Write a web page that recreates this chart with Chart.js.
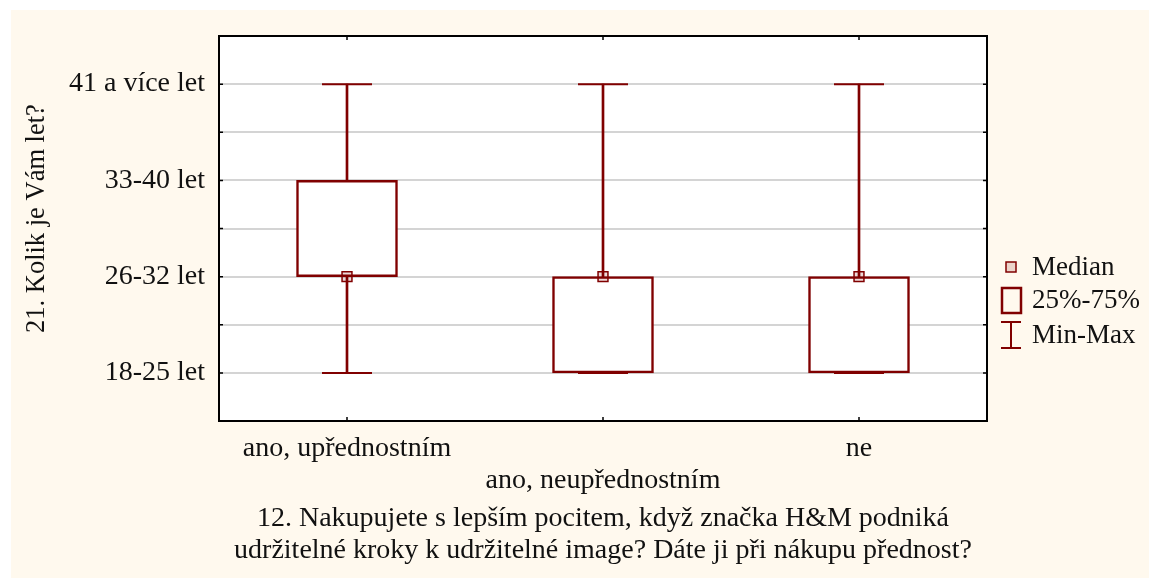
<!DOCTYPE html>
<html>
<head>
<meta charset="utf-8">
<script src="https://cdn.jsdelivr.net/npm/chart.js@4.4.1/dist/chart.umd.min.js"></script>
<style>
  html, body { margin: 0; padding: 0; background: #ffffff; }
  #wrap { position: absolute; left: 0; top: 0; width: 1149px; height: 578px; }
</style>
</head>
<body>
<div id="wrap"><canvas id="c" width="1149" height="578"></canvas></div>
<script>
// ---- data ----
const categories = ['ano, upřednostním', 'ano, neupřednostním', 'ne'];
const ageLabels = ['18-25 let', '26-32 let', '33-40 let', '41 a více let'];
const minValues = [1, 1, 1];
const q1Values = [2, 1, 1];
const medianValues = [2, 2, 2];
const q3Values = [3, 2, 2];
const maxValues = [4, 4, 4];
const legendLabels = ['Median', '25%-75%', 'Min-Max'];
const xTitle = ['12. Nakupujete s lepším pocitem, když značka H&M podniká',
                'udržitelné kroky k udržitelné image? Dáte ji při nákupu přednost?'];
const yTitle = '21. Kolik je Vám let?';

const RED = '#800000';
const CREAM = '#FFF9EE';
const FONT = "'Liberation Serif', 'Times New Roman', serif";
const TEXT = '#111111';

const bgPlugin = {
  id: 'bg',
  beforeDraw(chart) {
    const ctx = chart.ctx, a = chart.chartArea;
    ctx.save();
    ctx.fillStyle = '#ffffff';
    ctx.fillRect(0, 0, chart.width, chart.height);
    ctx.fillStyle = CREAM;
    ctx.fillRect(11, 10, chart.width - 11, chart.height - 10);
    ctx.fillStyle = '#ffffff';
    ctx.fillRect(a.left, a.top, a.right - a.left, a.bottom - a.top);
    ctx.restore();
  }
};

const framePlugin = {
  id: 'frame',
  afterDraw(chart) {
    const ctx = chart.ctx, a = chart.chartArea;
    const xs = chart.scales.x, ys = chart.scales.y;
    ctx.save();
    ctx.strokeStyle = '#000000';
    ctx.lineWidth = 1.5;
    ctx.beginPath();
    ys.ticks.forEach((t, i) => {
      const y = ys.getPixelForTick(i);
      ctx.moveTo(a.left, y); ctx.lineTo(a.left + 4, y);
      ctx.moveTo(a.right, y); ctx.lineTo(a.right - 4, y);
    });
    xs.ticks.forEach((t, i) => {
      const x = xs.getPixelForTick(i);
      ctx.moveTo(x, a.top); ctx.lineTo(x, a.top + 4);
      ctx.moveTo(x, a.bottom); ctx.lineTo(x, a.bottom - 4);
    });
    ctx.stroke();
    ctx.lineWidth = 2;
    ctx.strokeRect(a.left, a.top, a.right - a.left, a.bottom - a.top);
    ctx.restore();
  }
};

const legendPlugin = {
  id: 'customLegend',
  afterDraw(chart) {
    const ctx = chart.ctx, a = chart.chartArea;
    const ix = a.right + 24;   // icon centre x
    const tx = a.right + 45;   // text x
    const rows = [267, 300, 335];
    ctx.save();
    ctx.strokeStyle = RED;
    // median icon
    ctx.lineWidth = 1.5;
    ctx.fillStyle = 'rgba(128,0,0,0.15)';
    ctx.fillRect(ix - 5, rows[0] - 5, 10, 10);
    ctx.strokeRect(ix - 5, rows[0] - 5, 10, 10);
    // box icon
    ctx.lineWidth = 2.5;
    ctx.strokeRect(ix - 9, rows[1] - 12, 19, 25);
    // min-max icon
    ctx.lineWidth = 2;
    ctx.beginPath();
    ctx.moveTo(ix - 10, rows[2] - 13); ctx.lineTo(ix + 10, rows[2] - 13);
    ctx.moveTo(ix, rows[2] - 13); ctx.lineTo(ix, rows[2] + 13);
    ctx.moveTo(ix - 10, rows[2] + 13); ctx.lineTo(ix + 10, rows[2] + 13);
    ctx.stroke();
    ctx.fillStyle = TEXT;
    ctx.font = '27px ' + FONT;
    ctx.textBaseline = 'middle';
    ctx.textAlign = 'left';
    legendLabels.forEach((l, i) => ctx.fillText(l, tx, rows[i] + 1));
    ctx.restore();
  }
};

new Chart(document.getElementById('c'), {
  type: 'bar',
  data: {
    labels: categories,
    datasets: [
      {
        type: 'bar', label: 'whisker',
        data: minValues.map((v, i) => [v, maxValues[i]]),
        backgroundColor: RED, borderWidth: 0,
        barThickness: 2, grouped: false, order: 4
      },
      {
        type: 'bar', label: '25%-75%',
        data: q1Values.map((v, i) => [v, q3Values[i]]),
        backgroundColor: '#ffffff', borderColor: RED, borderWidth: 2.5,
        borderSkipped: false, barThickness: 101, grouped: false, order: 3
      },
      {
        type: 'line', label: 'min',
        data: minValues, showLine: false,
        pointStyle: 'line', pointRadius: 25, pointBorderWidth: 2,
        pointBorderColor: RED, borderColor: RED, order: 2
      },
      {
        type: 'line', label: 'max',
        data: maxValues, showLine: false,
        pointStyle: 'line', pointRadius: 25, pointBorderWidth: 2,
        pointBorderColor: RED, borderColor: RED, order: 2
      },
      {
        type: 'line', label: 'Median',
        data: medianValues, showLine: false,
        pointStyle: 'rect', pointRadius: 7, pointBorderWidth: 1.5,
        pointBorderColor: RED, pointBackgroundColor: 'rgba(128,0,0,0.15)', order: 1
      }
    ]
  },
  options: {
    responsive: false,
    animation: false,
    devicePixelRatio: 1,
    layout: { padding: { left: 0, right: 162, top: 36, bottom: 0 } },
    plugins: { legend: { display: false }, tooltip: { enabled: false } },
    scales: {
      x: {
        type: 'category',
        offset: true,
        grid: { display: false, drawTicks: false },
        border: { display: false },
        ticks: {
          padding: 12,
          color: TEXT,
          maxRotation: 0, autoSkip: false,
          font: { family: FONT, size: 28, lineHeight: '32px' },
          callback: function (value, index) {
            return index % 2 === 1 ? ['', categories[index]] : categories[index];
          }
        },
        title: {
          display: true, text: xTitle, color: TEXT,
          font: { family: FONT, size: 28, lineHeight: '32px' },
          padding: { top: 0, bottom: 11 }
        },
        afterFit(scale) { scale.height = 157; }
      },
      y: {
        min: 0.5, max: 4.5,
        grid: { color: '#d4d4d4', lineWidth: 2, drawTicks: false },
        border: { display: false },
        ticks: {
          stepSize: 0.5, padding: 14, color: TEXT, autoSkip: false,
          font: { family: FONT, size: 28 },
          callback: (v) => Number.isInteger(v) ? ageLabels[v - 1] : ''
        },
        title: {
          display: true, text: '   ' + yTitle, color: TEXT,
          font: { family: FONT, size: 26.5, lineHeight: 1.2 },
          padding: { top: 21, bottom: 0 }
        },
        afterFit(scale) { scale.width = 219; }
      }
    }
  },
  plugins: [bgPlugin, framePlugin, legendPlugin]
});
</script>
</body>
</html>
